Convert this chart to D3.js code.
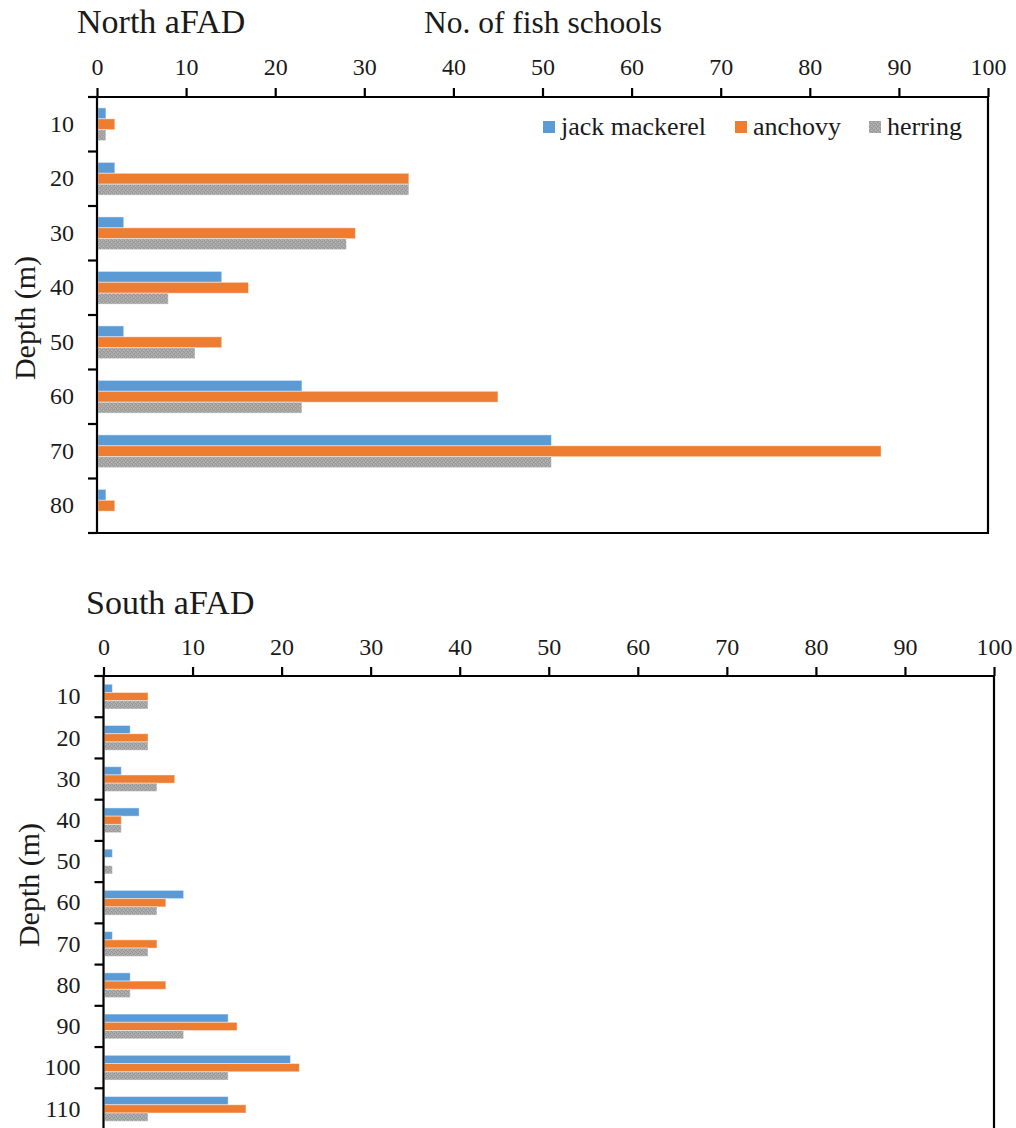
<!DOCTYPE html>
<html>
<head>
<meta charset="utf-8">
<script src="https://cdn.jsdelivr.net/npm/d3@7/dist/d3.min.js"></script>
<style>
  html, body { margin: 0; padding: 0; background: #fff; }
  svg text { font-family: "Liberation Serif", "Times New Roman", serif; fill: #1a1a1a; }
</style>
</head>
<body>
<svg id="chart" width="1016" height="1128"></svg>
<script>
// ---- data ----
const seriesNames = ["jack mackerel", "anchovy", "herring"];
const seriesColors = ["#5B9BD5", "#ED7D31", "url(#grayTex)"];
const xTicks = [0, 10, 20, 30, 40, 50, 60, 70, 80, 90, 100];

const northDepths = ["10", "20", "30", "40", "50", "60", "70", "80"];
const northJack    = [1, 2, 3, 14, 3, 23, 51, 1];
const northAnchovy = [2, 35, 29, 17, 14, 45, 88, 2];
const northHerring = [1, 35, 28, 8, 11, 23, 51, 0];

const southDepths = ["10", "20", "30", "40", "50", "60", "70", "80", "90", "100", "110"];
const southJack    = [1, 3, 2, 4, 1, 9, 1, 3, 14, 21, 14];
const southAnchovy = [5, 5, 8, 2, 0, 7, 6, 7, 15, 22, 16];
const southHerring = [5, 5, 6, 2, 1, 6, 5, 3, 9, 14, 5];

const svg = d3.select("#chart");
const serif = '"Liberation Serif", "Times New Roman", serif';

// gray stippled texture
const defs = svg.append("defs");
const pat = defs.append("pattern").attr("id", "grayTex")
  .attr("patternUnits", "userSpaceOnUse").attr("width", 4).attr("height", 4);
pat.append("rect").attr("width", 4).attr("height", 4).attr("fill", "#a8a8a8");
[[0,0],[2,1],[1,2],[3,3]].forEach(([x,y]) =>
  pat.append("rect").attr("x", x).attr("y", y).attr("width", 1).attr("height", 1).attr("fill", "#939393"));
[[1,0],[3,2]].forEach(([x,y]) =>
  pat.append("rect").attr("x", x).attr("y", y).attr("width", 1).attr("height", 1).attr("fill", "#bababa"));

function drawPanel(cfg) {
  const { left, right, top, bottom, depths, values, labelPad } = cfg;
  const g = svg.append("g");
  const x = d3.scaleLinear().domain([0, 100]).range([left, right]);
  const y = d3.scaleBand().domain(depths).range([top, bottom]).paddingInner(0.4).paddingOuter(0.2);
  const ys = d3.scaleBand().domain(seriesNames).range([0, y.bandwidth()]).padding(0);

  // bars
  seriesNames.forEach((s, si) => {
    g.append("g").selectAll("rect")
      .data(depths.map((d, i) => ({ d, v: values[si][i] })).filter(o => o.v > 0))
      .join("rect")
      .attr("x", x(0) + 1)
      .attr("y", o => y(o.d) + ys(s))
      .attr("width", o => x(o.v) - x(0) - 1)
      .attr("height", ys.bandwidth())
      .attr("fill", seriesColors[si])
      .attr("stroke", "rgba(255,255,255,0.45)")
      .attr("stroke-width", 1);
  });

  // top axis
  const ax = g.append("g").attr("transform", `translate(0,${top})`)
    .call(d3.axisTop(x).tickValues(xTicks).tickSize(9).tickSizeOuter(0).tickPadding(labelPad));
  ax.select(".domain").attr("stroke", "#000").attr("stroke-width", 2.2)
    .attr("d", `M${left - 9},0H${right}`);
  ax.selectAll(".tick line").attr("stroke", "#000").attr("stroke-width", 2.2);
  ax.selectAll(".tick text").attr("font-size", 24).attr("fill", "#1a1a1a")
    .style("font-family", serif);

  // left axis (labels at band centres)
  const ay = g.append("g").attr("transform", `translate(${left},0)`)
    .call(d3.axisLeft(y).tickSize(0).tickPadding(23));
  ay.select(".domain").attr("stroke", "#000").attr("stroke-width", 2.2)
    .attr("d", `M0,${top}V${bottom}`);
  ay.selectAll(".tick text").attr("font-size", 24).attr("fill", "#1a1a1a")
    .style("font-family", serif);

  // left boundary ticks between categories
  const bounds = depths.map(d => y(d) - y.step() * y.paddingInner() / 2).concat([bottom]);
  g.append("g").selectAll("line").data(bounds).join("line")
    .attr("x1", left - 9).attr("x2", left)
    .attr("y1", b => b).attr("y2", b => b)
    .attr("stroke", "#000").attr("stroke-width", 2.2);

  // right and bottom frame
  g.append("path").attr("fill", "none").attr("stroke", "#000").attr("stroke-width", 2.2)
    .attr("d", `M${right},${top}V${bottom}H${left}`);
  return { x, y };
}

// North panel
drawPanel({ left: 97, right: 988, top: 97, bottom: 533, depths: northDepths,
  values: [northJack, northAnchovy, northHerring], labelPad: 13 });

// South panel (extends past the bottom of the page)
drawPanel({ left: 103.5, right: 994, top: 676, bottom: 1129.5, depths: southDepths,
  values: [southJack, southAnchovy, southHerring], labelPad: 12 });

// titles
svg.append("text").attr("x", 77).attr("y", 33).attr("font-size", 34).text("North aFAD");
svg.append("text").attr("x", 543).attr("y", 33).attr("font-size", 31.5).attr("text-anchor", "middle").text("No. of fish schools");
svg.append("text").attr("x", 86).attr("y", 614).attr("font-size", 34).text("South aFAD");

// y-axis titles
svg.append("text").attr("transform", "translate(35,318) rotate(-90)").attr("font-size", 30)
  .attr("text-anchor", "middle").text("Depth (m)");
svg.append("text").attr("transform", "translate(39,885) rotate(-90)").attr("font-size", 30)
  .attr("text-anchor", "middle").text("Depth (m)");

// legend
const legendX = [543, 735, 869];
const lg = svg.append("g");
seriesNames.forEach((s, i) => {
  lg.append("rect").attr("x", legendX[i]).attr("y", 121).attr("width", 12).attr("height", 12)
    .attr("fill", seriesColors[i]);
  lg.append("text").attr("x", legendX[i] + 18).attr("y", 135).attr("font-size", 26).text(s);
});
</script>
</body>
</html>
